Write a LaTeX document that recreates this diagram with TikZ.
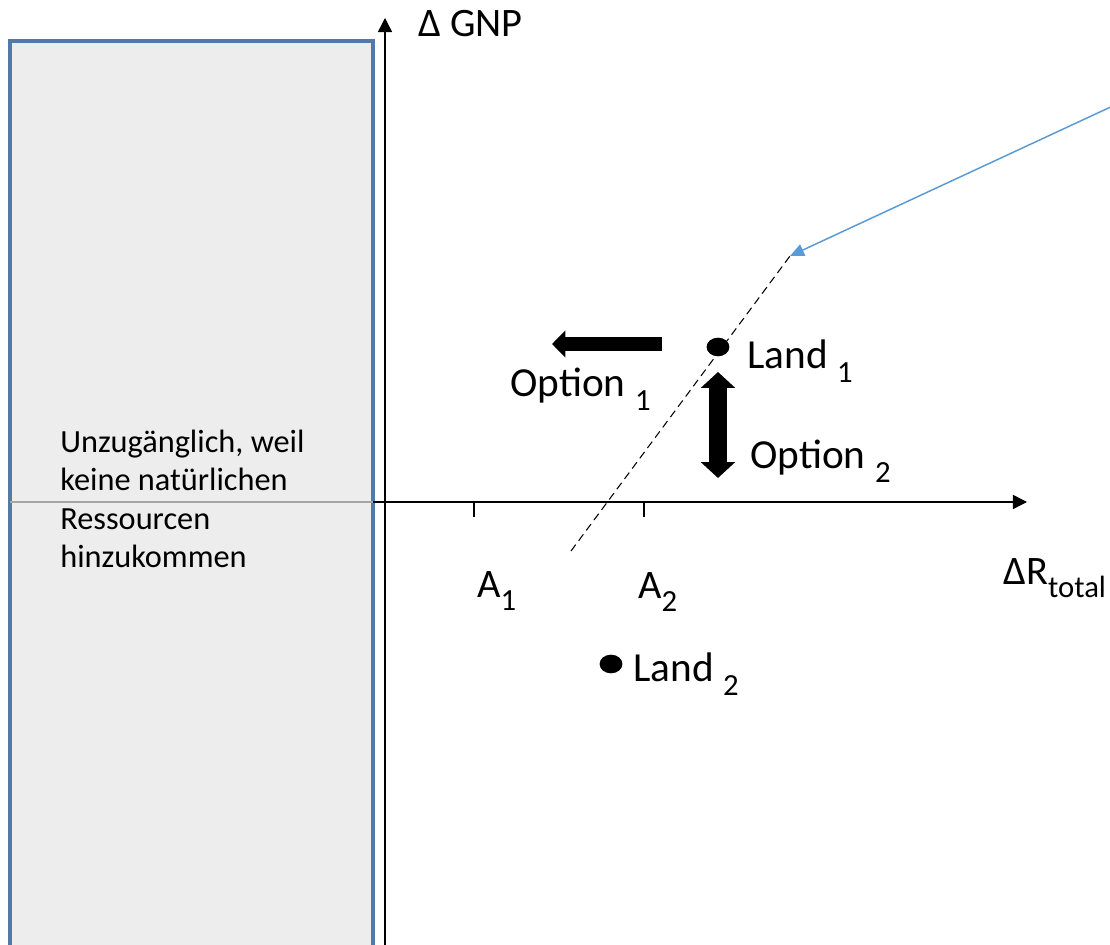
\documentclass[tikz,border=0pt]{standalone}
\usepackage{fontspec}
\setmainfont{Carlito}
\usetikzlibrary{arrows.meta,shapes.geometric}
\definecolor{boxfill}{RGB}{237,237,237}
\definecolor{boxedge}{RGB}{80,122,168}
\definecolor{pointerblue}{RGB}{91,155,213}
\definecolor{inboxgray}{RGB}{166,166,166}
\newcommand{\lsub}[1]{\raisebox{-0.32em}{\fontsize{17.5}{17.5}\selectfont #1}}

\begin{document}
\begin{tikzpicture}[x=0.02cm, y=-0.02cm,
  lbl/.style={font=\fontsize{23.5}{28}\selectfont, inner sep=0pt, anchor=base west},
  axlbl/.style={font=\fontsize{23}{27}\selectfont, inner sep=0pt, anchor=base west},
  boxtxt/.style={font=\fontsize{18.4}{22}\selectfont, align=left, inner sep=0pt, anchor=base west},
  regionbox/.style={draw=boxedge, fill=boxfill, line width=1.9pt},
  landdot/.style={ellipse, fill=black, minimum width=13pt, minimum height=10.6pt, inner sep=0pt},
  axisline/.style={draw=black, line width=0.85pt, -{Triangle[length=8pt,width=8pt]}},
  inboxline/.style={draw=inboxgray, line width=0.85pt},
  tickmark/.style={draw=black, line width=0.6pt},
  dashline/.style={draw=black, line width=0.6pt, dash pattern=on 4.5pt off 2.8pt},
  pointer/.style={draw=pointerblue, line width=0.85pt, -{Triangle[length=8pt,width=7pt]}},
  fatarrow/.style={draw=black, line width=8pt, -{Triangle[length=7.6pt,width=15pt]}},
  fatdouble/.style={draw=black, line width=9.7pt, {Triangle[length=9pt,width=19pt]}-{Triangle[length=9pt,width=19pt]}}
]
\useasboundingbox (0,0) rectangle (1110,945);

\draw[regionbox] (10,41) rectangle (373,975);
\coordinate (boxl) at (10,502);
\coordinate (boxr) at (373,502);
\draw[inboxline] (boxl) -- (boxr);
\node[boxtxt] (unzug) at (60,568) {Unzugänglich, weil\\keine natürlichen\\Ressourcen\\hinzukommen};

\coordinate (ybot) at (385,960);
\coordinate (ytop) at (385,18);
\coordinate (xend) at (1027,502);
\draw[axisline] (ybot) -- (ytop);
\draw[axisline] (boxr) -- (xend);
\coordinate (t1) at (474,502);
\coordinate (t2) at (644,502);
\draw[tickmark] (t1) -- ++(0,15);
\draw[tickmark] (t2) -- ++(0,15);

\node[axlbl] (gnp) at (418,37) {Δ GNP};
\node[axlbl] (rtot) at (1003,585) {ΔR\lsub{total}};
\node[axlbl] (a1) at (477,598) {A\lsub{1}};
\node[axlbl] (a2) at (638,599) {A\lsub{2}};

\coordinate (dlow) at (571,551);
\coordinate (dup) at (790,256);
\draw[dashline] (dlow) -- (dup);
\coordinate (ptrstart) at (1130,98);
\draw[pointer] (ptrstart) -- (dup);

\node[landdot] (land1) at (718,347) {};
\node[lbl] (land1lbl) at (747,369) {Land \lsub{1}};
\node[landdot] (land2) at (611,664) {};
\node[lbl] (land2lbl) at (633,682) {Land \lsub{2}};

\coordinate (opt1a) at (662,344);
\coordinate (opt1b) at (552,344);
\draw[fatarrow] (opt1a) -- (opt1b);
\node[lbl] (opt1lbl) at (510,397) {Option \lsub{1}};
\coordinate (opt2a) at (718,372);
\coordinate (opt2b) at (718,478);
\draw[fatdouble] (opt2a) -- (opt2b);
\node[lbl] (opt2lbl) at (750,469) {Option \lsub{2}};

\end{tikzpicture}
\end{document}
